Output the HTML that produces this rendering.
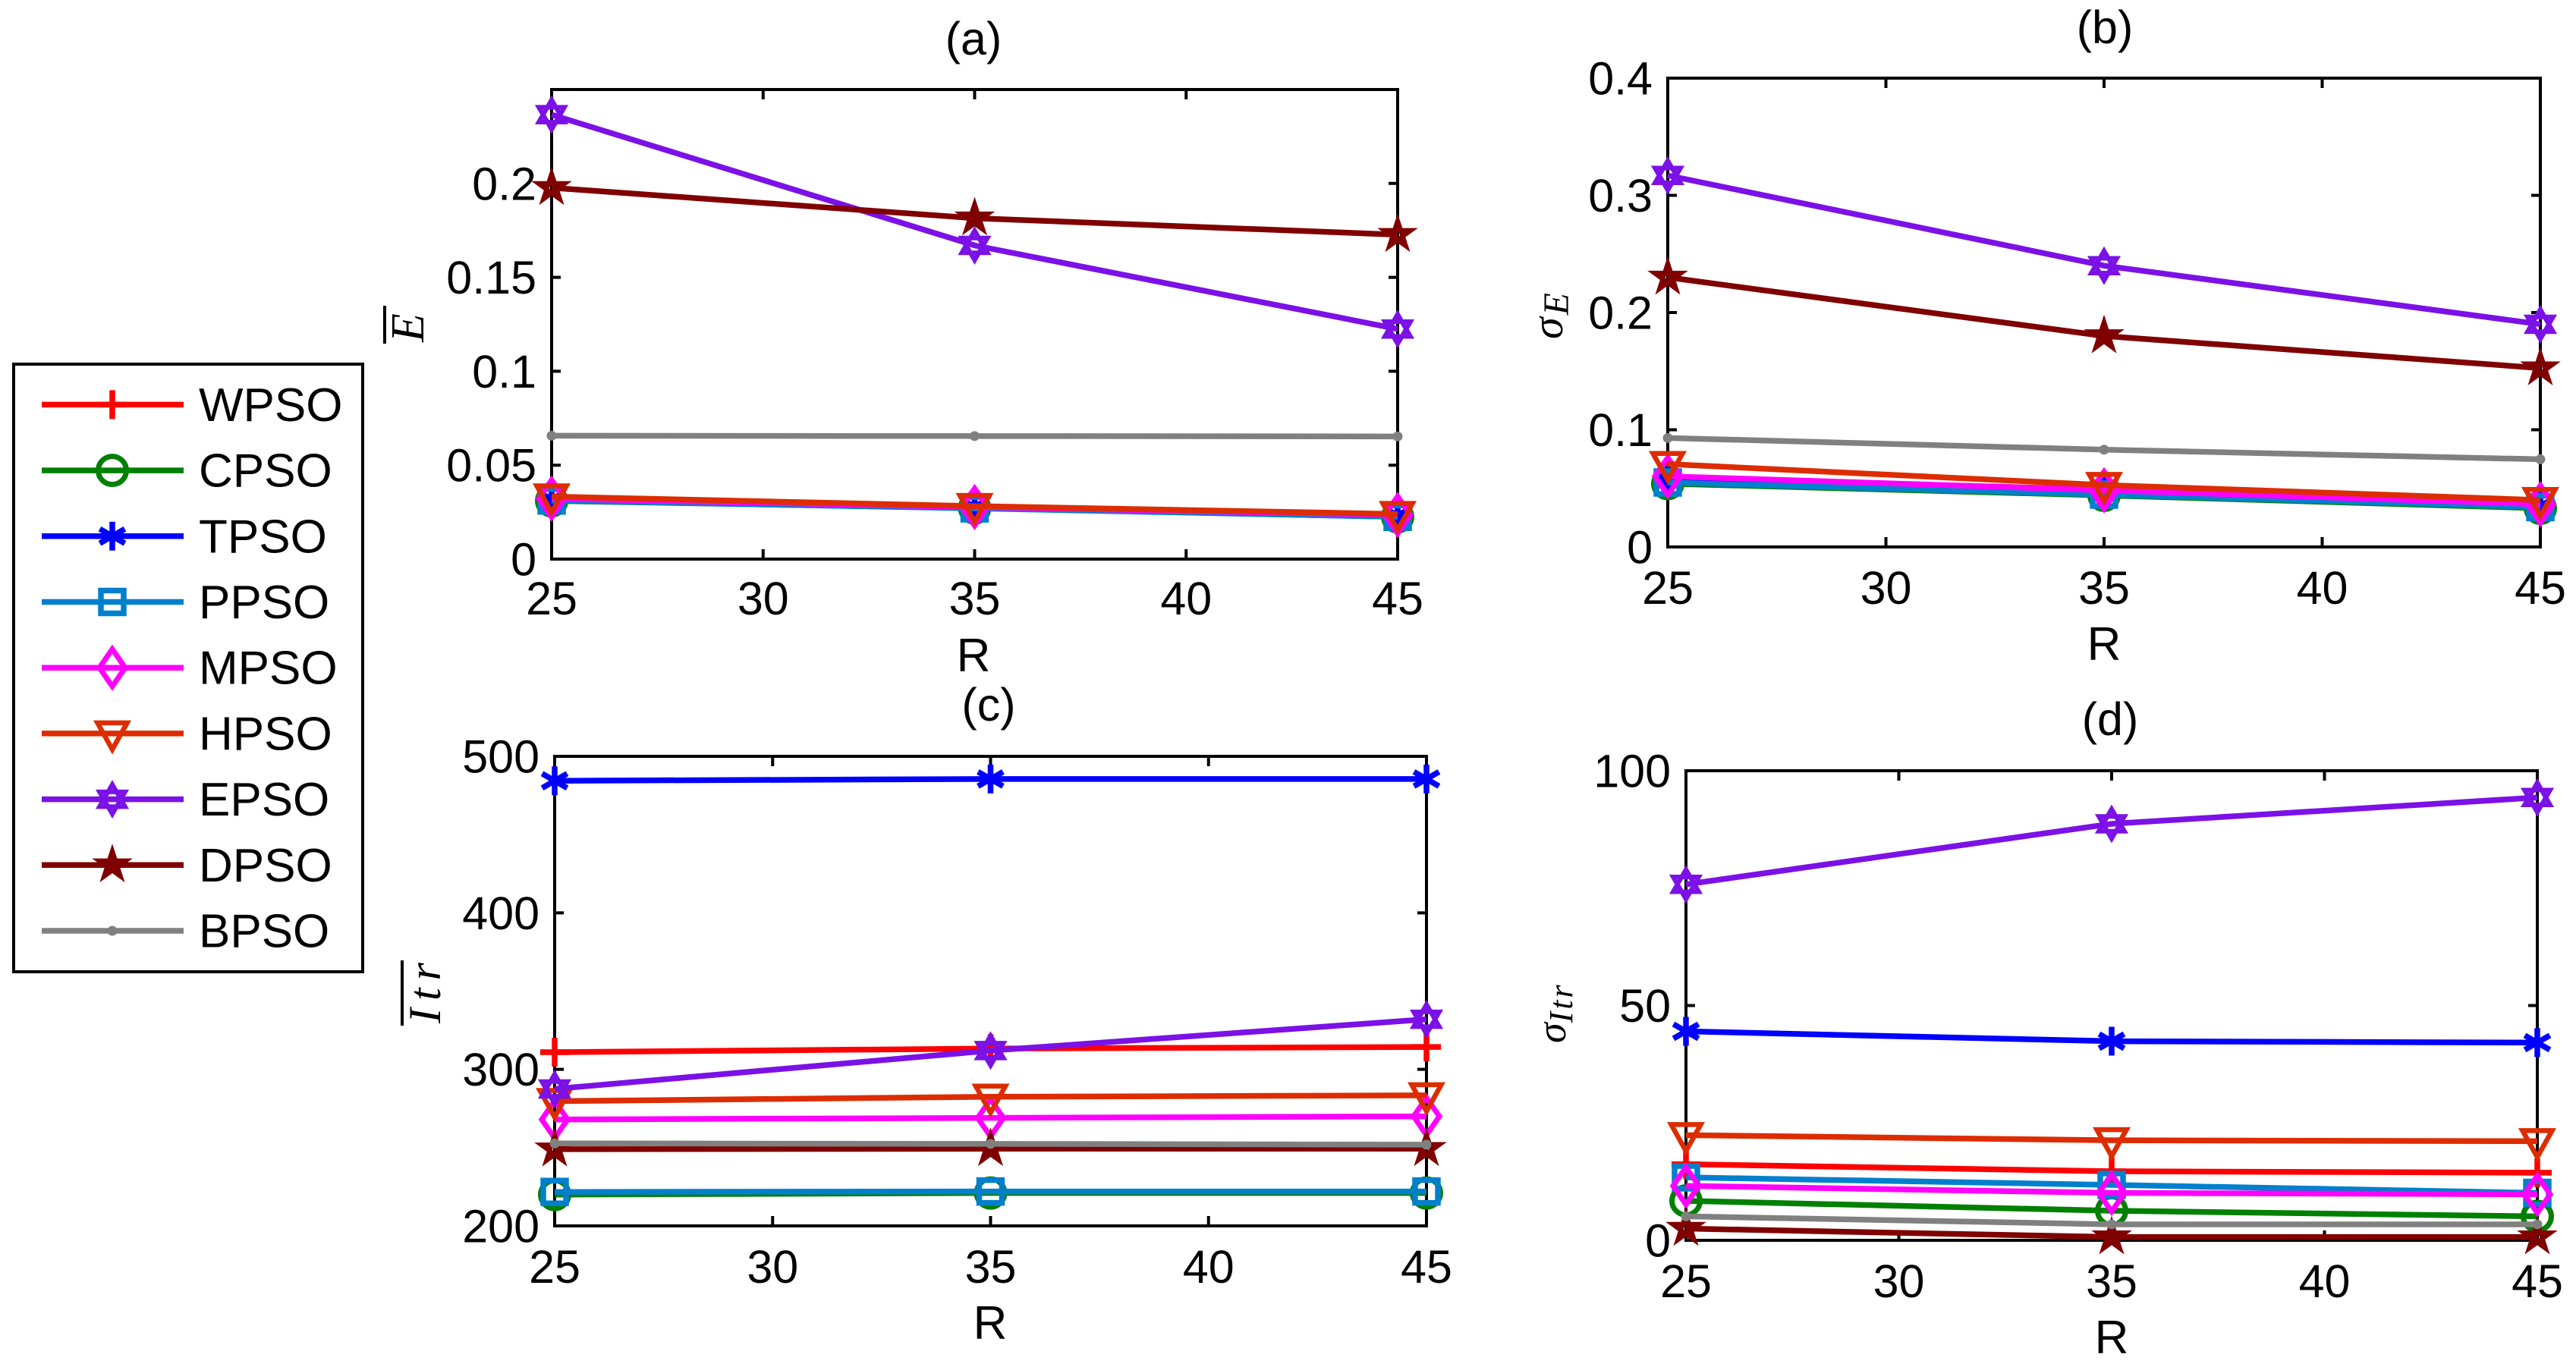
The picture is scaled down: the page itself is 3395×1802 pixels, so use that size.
<!DOCTYPE html>
<html>
<head>
<meta charset="utf-8">
<title>PSO comparison charts</title>
<style>
html,body{margin:0;padding:0;background:#fff;}
svg{display:block;font-family:"Liberation Sans",sans-serif;}
</style>
</head>
<body>
<svg id="figure" xmlns="http://www.w3.org/2000/svg" width="3395" height="1802" viewBox="0 0 3395 1802">
<rect x="0" y="0" width="3395" height="1802" fill="#fff"/>
<g id="panels"></g>
<g id="legend"></g>
<g>
  <line x1="507" y1="403" x2="507" y2="453" stroke="#000" stroke-width="4"/>
  <text transform="translate(558,451) rotate(-90)" font-family="'Liberation Serif',serif" font-style="italic" font-size="62">E</text>
</g>
<g>
  <text transform="translate(2059,447) rotate(-90)" font-family="'Liberation Serif','DejaVu Serif',serif" font-style="italic" font-size="58">σ<tspan font-size="48" dy="8" dx="3">E</tspan></text>
</g>
<g>
  <line x1="530" y1="1266" x2="530" y2="1352" stroke="#000" stroke-width="4"/>
  <text transform="translate(580,1349) rotate(-90)" font-family="'Liberation Serif',serif" font-style="italic" font-size="60" letter-spacing="10">Itr</text>
</g>
<g>
  <text transform="translate(2063,1375) rotate(-90)" font-family="'Liberation Serif','DejaVu Serif',serif" font-style="italic" font-size="54">σ<tspan font-size="44" dy="9" dx="0" letter-spacing="3">Itr</tspan></text>
</g>
</svg>
<script>
// Shared categories and axis ticks
const categories = [25, 35, 45];
const xTicks = [25, 30, 35, 40, 45];
const xRange = [25, 45];
const seriesNames = ['WPSO','CPSO','TPSO','PPSO','MPSO','HPSO','EPSO','DPSO','BPSO'];

// Panel (a) mean error
const yTicksA = [0, 0.05, 0.1, 0.15, 0.2];
const yRangeA = [0, 0.25];
const aWPSO = [0.0325, 0.0278, 0.0235];
const aCPSO = [0.0310, 0.0272, 0.0225];
const aTPSO = [0.0318, 0.0278, 0.0232];
const aPPSO = [0.0312, 0.0270, 0.0225];
const aMPSO = [0.0322, 0.0277, 0.0235];
const aHPSO = [0.0333, 0.0282, 0.0240];
const aEPSO = [0.2366, 0.1670, 0.1225];
const aDPSO = [0.1977, 0.1815, 0.1727];
const aBPSO = [0.0657, 0.0655, 0.0653];

// Panel (b) error deviation
const yTicksB = [0, 0.1, 0.2, 0.3, 0.4];
const yRangeB = [0, 0.4];
const bWPSO = [0.0590, 0.0490, 0.0370];
const bCPSO = [0.0540, 0.0440, 0.0330];
const bTPSO = [0.0570, 0.0470, 0.0350];
const bPPSO = [0.0550, 0.0447, 0.0340];
const bMPSO = [0.0603, 0.0484, 0.0365];
const bHPSO = [0.0707, 0.0528, 0.0400];
const bEPSO = [0.3170, 0.2400, 0.1900];
const bDPSO = [0.2300, 0.1800, 0.1526];
const bBPSO = [0.0930, 0.0830, 0.0748];

// Panel (c) mean iterations
const yTicksC = [200, 300, 400, 500];
const yRangeC = [200, 500];
const cWPSO = [311.0, 313.3, 314.3];
const cCPSO = [220.0, 221.0, 221.0];
const cTPSO = [484.4, 485.5, 485.5];
const cPPSO = [221.7, 222.0, 222.0];
const cMPSO = [268.0, 269.0, 270.0];
const cHPSO = [279.7, 282.5, 283.4];
const cEPSO = [287.5, 312.0, 332.0];
const cDPSO = [249.0, 249.3, 249.3];
const cBPSO = [252.7, 252.4, 251.9];

// Panel (d) iteration deviation
const yTicksD = [0, 50, 100];
const yRangeD = [0, 100];
const dWPSO = [16.2, 14.7, 14.4];
const dCPSO = [8.4, 6.3, 5.1];
const dTPSO = [44.5, 42.4, 42.1];
const dPPSO = [13.4, 11.8, 10.1];
const dMPSO = [11.6, 10.1, 9.8];
const dHPSO = [22.4, 21.3, 21.1];
const dEPSO = [75.8, 88.7, 94.3];
const dDPSO = [2.5, 0.7, 0.7];
const dBPSO = [5.1, 3.4, 3.4];

const NS = 'http://www.w3.org/2000/svg';
const seriesColors = ['#ff0000','#008000','#0000ff','#0080cc','#ff00ff','#dd2c00','#7b11e6','#800000','#808080'];
const seriesShapes = ['plus','circle','asterisk','square','diamond','triangle','hexagram','pentagram','dot'];

const panels = [
  {id:'a', box:[727,118,1842,737], title:'(a)', titleX:1283, titleY:72, tickY:810, rX:1283, rY:885, ticks:yTicksA, range:yRangeA, data:[aWPSO,aCPSO,aTPSO,aPPSO,aMPSO,aHPSO,aEPSO,aDPSO,aBPSO]},
  {id:'b', box:[2198,103,3348,721], title:'(b)', titleX:2774, titleY:57, tickY:796, rX:2773, rY:870, ticks:yTicksB, range:yRangeB, data:[bWPSO,bCPSO,bTPSO,bPPSO,bMPSO,bHPSO,bEPSO,bDPSO,bBPSO]},
  {id:'c', box:[731,997,1880,1616], title:'(c)', titleX:1303, titleY:950, tickY:1691, rX:1305, rY:1765, ticks:yTicksC, range:yRangeC, data:[cWPSO,cCPSO,cTPSO,cPPSO,cMPSO,cHPSO,cEPSO,cDPSO,cBPSO]},
  {id:'d', box:[2222,1016,3344,1635], title:'(d)', titleX:2781, titleY:969, tickY:1710, rX:2783, rY:1784, ticks:yTicksD, range:yRangeD, data:[dWPSO,dCPSO,dTPSO,dPPSO,dMPSO,dHPSO,dEPSO,dDPSO,dBPSO]}
];

function make(tag, attrs, parent) {
  const el = document.createElementNS(NS, tag);
  for (const k in attrs) el.setAttribute(k, attrs[k]);
  parent.appendChild(el);
  return el;
}

function starPoints(R, n, step) {
  const pts = [];
  for (let i = 0; i < n; i++) {
    const a = (-90 + i * step * 360 / n) * Math.PI / 180;
    pts.push((R * Math.cos(a)).toFixed(2) + ' ' + (R * Math.sin(a)).toFixed(2));
  }
  return 'M' + pts.join('L') + 'Z';
}

function hexagramPath(R) {
  const tri = (start) => {
    const p = [];
    for (let i = 0; i < 3; i++) {
      const a = (start + i * 120) * Math.PI / 180;
      p.push((R * Math.cos(a)).toFixed(2) + ' ' + (R * Math.sin(a)).toFixed(2));
    }
    return 'M' + p.join('L') + 'Z';
  };
  return tri(-90) + tri(90);
}

function drawMarker(parent, shape, color, x, y, name) {
  const g = make('g', {transform:'translate(' + x.toFixed(2) + ',' + y.toFixed(2) + ')', fill:'none', stroke:color, 'stroke-miterlimit':'10'}, parent);
  
  
  if (shape === 'plus') {
    make('path', {d:'M-19 0H19M0 -19V19', 'stroke-width':7.5}, g);
  } else if (shape === 'circle') {
    make('circle', {cx:0, cy:0, r:18.5, 'stroke-width':7}, g);
  } else if (shape === 'asterisk') {
    make('path', {d:'M0 -19V19M-16.5 -9.5L16.5 9.5M-16.5 9.5L16.5 -9.5', 'stroke-width':7.5}, g);
  } else if (shape === 'square') {
    make('rect', {x:-15, y:-15, width:30, height:30, 'stroke-width':7.5}, g);
  } else if (shape === 'diamond') {
    make('path', {d:'M0 -24.5L17 0L0 24.5L-17 0Z', 'stroke-width':7}, g);
  } else if (shape === 'triangle') {
    make('path', {d:'M-19.5 -14H19.5L0 21Z', 'stroke-width':6.5}, g);
  } else if (shape === 'hexagram') {
    make('path', {d:hexagramPath(19.5), 'stroke-width':6}, g);
  } else if (shape === 'pentagram') {
    make('path', {d:starPoints(18.5, 5, 2), 'stroke-width':6}, g);
  } else {
    make('circle', {cx:0, cy:0, r:6.5, fill:color, stroke:'none'}, g);
  }
}

const panelsRoot = document.getElementById('panels');
panels.forEach(function (p) {
  const x0 = p.box[0], y0 = p.box[1], x1 = p.box[2], y1 = p.box[3];
  const sx = function (v) { return x0 + (v - xRange[0]) / (xRange[1] - xRange[0]) * (x1 - x0); };
  const sy = function (v) { return y1 - (v - p.range[0]) / (p.range[1] - p.range[0]) * (y1 - y0); };

  const g = make('g', {}, panelsRoot);
  
  

  const frame = make('rect', {x:x0, y:y0, width:x1 - x0, height:y1 - y0, fill:'#fff', stroke:'#000', 'stroke-width':4}, g);
  
  

  const title = make('text', {x:p.titleX, y:p.titleY, 'text-anchor':'middle', 'font-size':61, fill:'#000'}, g);
  
  
  title.textContent = p.title;

  const xLabel = make('text', {x:p.rX, y:p.rY, 'text-anchor':'middle', 'font-size':62, fill:'#000'}, g);
  
  
  xLabel.textContent = 'R';

  xTicks.forEach(function (t) {
    const tx = sx(t);
    const mark = make('path', {d:'M' + tx + ' ' + y1 + 'v-13M' + tx + ' ' + y0 + 'v13', stroke:'#000', 'stroke-width':4, fill:'none'}, g);
    
    
    const label = make('text', {x:tx, y:p.tickY, 'text-anchor':'middle', 'font-size':61, fill:'#000'}, g);
    
    
    label.textContent = t;
  });

  p.ticks.forEach(function (t) {
    const ty = sy(t);
    const mark = make('path', {d:'M' + x0 + ' ' + ty + 'h12M' + x1 + ' ' + ty + 'h-12', stroke:'#000', 'stroke-width':4, fill:'none'}, g);
    
    
    const label = make('text', {x:x0 - 20, y:ty + 21.5, 'text-anchor':'end', 'font-size':61, fill:'#000'}, g);
    
    
    label.textContent = t;
  });

  seriesNames.forEach(function (name, i) {
    const sg = make('g', {}, g);
    
    
    const values = p.data[i];
    const pts = values.map(function (v, k) { return sx(categories[k]).toFixed(2) + ',' + sy(v).toFixed(2); }).join(' ');
    const line = make('polyline', {points:pts, fill:'none', stroke:seriesColors[i], 'stroke-width':7.5, 'stroke-linejoin':'miter'}, sg);
    
    
    values.forEach(function (v, k) {
      drawMarker(sg, seriesShapes[i], seriesColors[i], sx(categories[k]), sy(v), 'marker-' + p.id + '-' + name.toLowerCase() + '-' + categories[k]);
    });
  });
});

const legendRoot = document.getElementById('legend');
const legendBox = make('rect', {x:18, y:480, width:460, height:801, fill:'#fff', stroke:'#000', 'stroke-width':4}, legendRoot);


seriesNames.forEach(function (name, i) {
  const y = 533.4 + i * 86.7;
  const entry = make('g', {}, legendRoot);
  
  
  const line = make('line', {x1:55, x2:242, y1:y, y2:y, stroke:seriesColors[i], 'stroke-width':7.5}, entry);
  
  
  drawMarker(entry, seriesShapes[i], seriesColors[i], 148, y, 'legend-marker-' + name.toLowerCase());
  const label = make('text', {x:262, y:y + 21.5, 'font-size':62, fill:'#000'}, entry);
  
  
  label.textContent = name;
});
</script>
</body>
</html>
